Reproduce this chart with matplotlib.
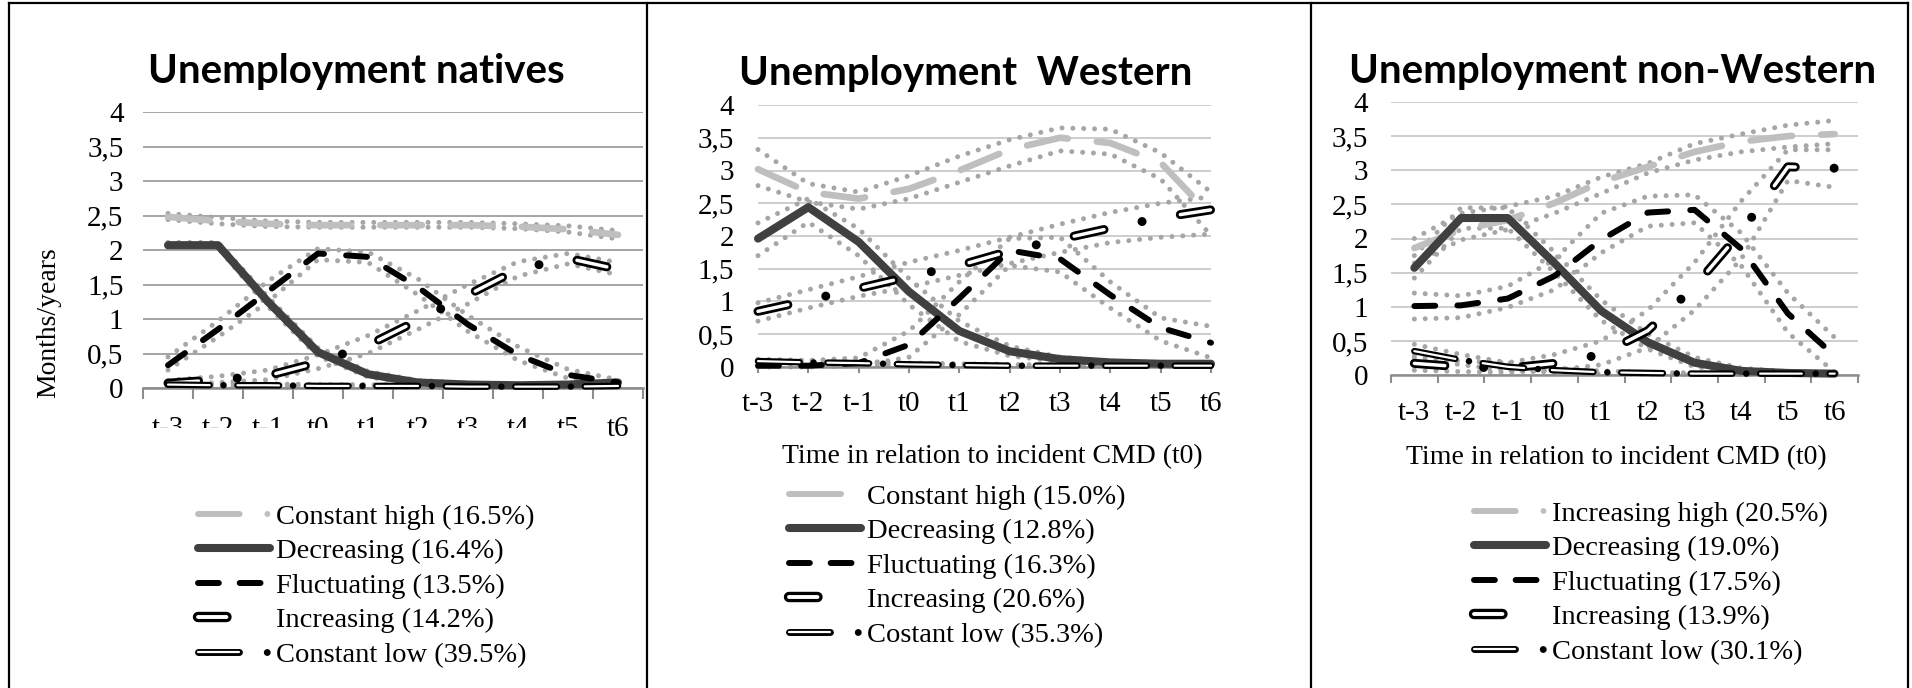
import numpy as np
import matplotlib
matplotlib.use('Agg')
import matplotlib.pyplot as plt
from matplotlib.lines import Line2D
from matplotlib.patches import Rectangle

plt.rcParams['font.family'] = ['Liberation Serif', 'DejaVu Serif']
plt.rcParams['lines.scale_dashes'] = False

W, H = 1912, 688

periods = ['t-3', 't-2', 't-1', 't0', 't1', 't2', 't3', 't4', 't5', 't6']
y_ticks = [0, 0.5, 1, 1.5, 2, 2.5, 3, 3.5, 4]
y_tick_labels = ['0', '0,5', '1', '1,5', '2', '2,5', '3', '3,5', '4']

titles = ['Unemployment natives', 'Unemployment  Western', 'Unemployment non-Western']
x_title = 'Time in relation to incident CMD (t0)'

labels_nat = ['Constant high (16.5%)', 'Decreasing (16.4%)', 'Fluctuating (13.5%)',
              'Increasing (14.2%)', 'Constant low (39.5%)']
labels_wes = ['Constant high (15.0%)', 'Decreasing (12.8%)', 'Fluctuating (16.3%)',
              'Increasing (20.6%)', 'Costant low (35.3%)']
labels_nw = ['Increasing high (20.5%)', 'Decreasing (19.0%)', 'Fluctuating (17.5%)',
             'Increasing (13.9%)', 'Constant low (30.1%)']

# natives: mean trajectory + lower/upper bands
nat_high = [2.48, 2.42, 2.38, 2.36, 2.36, 2.36, 2.36, 2.34, 2.30, 2.22]
nat_high_lo = [2.44, 2.38, 2.34, 2.33, 2.33, 2.33, 2.33, 2.31, 2.26, 2.16]
nat_high_hi = [2.53, 2.47, 2.42, 2.40, 2.40, 2.40, 2.40, 2.38, 2.35, 2.28]
nat_decr = [2.07, 2.07, 1.25, 0.52, 0.20, 0.08, 0.05, 0.04, 0.05, 0.08]
nat_decr_lo = [2.03, 2.03, 1.18, 0.46, 0.16, 0.05, 0.03, 0.02, 0.03, 0.05]
nat_decr_hi = [2.11, 2.11, 1.32, 0.58, 0.24, 0.11, 0.07, 0.06, 0.07, 0.11]
nat_fluc = [0.33, 0.85, 1.40, 1.95, 1.90, 1.46, 0.92, 0.48, 0.19, 0.08]
nat_fluc_lo = [0.26, 0.74, 1.25, 1.86, 1.82, 1.35, 0.82, 0.40, 0.14, 0.05]
nat_fluc_hi = [0.45, 0.97, 1.55, 2.02, 1.97, 1.58, 1.05, 0.60, 0.27, 0.12]
nat_incr = [0.07, 0.12, 0.18, 0.37, 0.62, 0.98, 1.35, 1.72, 1.88, 1.72]
nat_incr_lo = [0.04, 0.08, 0.12, 0.28, 0.50, 0.85, 1.22, 1.62, 1.80, 1.64]
nat_incr_hi = [0.11, 0.17, 0.26, 0.48, 0.76, 1.12, 1.50, 1.83, 1.95, 1.82]
nat_low = [0.05, 0.04, 0.04, 0.03, 0.03, 0.03, 0.02, 0.02, 0.02, 0.03]
nat_low_lo = [0.03, 0.02, 0.02, 0.02, 0.01, 0.01, 0.01, 0.01, 0.01, 0.01]
nat_low_hi = [0.07, 0.06, 0.06, 0.05, 0.05, 0.04, 0.04, 0.04, 0.04, 0.05]

# Western
wes_high = [3.02, 2.67, 2.57, 2.72, 3.00, 3.32, 3.50, 3.42, 3.12, 2.31]
wes_high_lo = [2.77, 2.52, 2.41, 2.57, 2.82, 3.07, 3.30, 3.25, 2.87, 2.01]
wes_high_hi = [3.32, 2.80, 2.67, 2.92, 3.22, 3.47, 3.65, 3.63, 3.27, 2.67]
wes_decr = [1.96, 2.44, 1.91, 1.15, 0.55, 0.24, 0.12, 0.07, 0.05, 0.05]
wes_decr_lo = [1.70, 2.21, 1.70, 0.95, 0.39, 0.17, 0.08, 0.05, 0.03, 0.03]
wes_decr_hi = [2.20, 2.57, 2.11, 1.35, 0.70, 0.32, 0.15, 0.09, 0.07, 0.06]
wes_fluc = [0.02, 0.02, 0.06, 0.34, 1.05, 1.78, 1.65, 1.10, 0.60, 0.37]
wes_fluc_lo = [0.00, 0.00, 0.02, 0.15, 0.80, 1.55, 1.45, 0.90, 0.40, 0.14]
wes_fluc_hi = [0.10, 0.10, 0.14, 0.55, 1.30, 1.96, 1.98, 1.30, 0.75, 0.62]
wes_incr = [0.85, 1.02, 1.20, 1.38, 1.55, 1.77, 1.95, 2.12, 2.28, 2.40]
wes_incr_lo = [0.70, 0.90, 1.08, 1.22, 1.40, 1.58, 1.75, 1.90, 1.98, 2.03]
wes_incr_hi = [0.98, 1.18, 1.38, 1.60, 1.78, 1.98, 2.18, 2.36, 2.50, 2.60]
wes_low = [0.09, 0.07, 0.06, 0.04, 0.03, 0.02, 0.02, 0.02, 0.02, 0.02]
wes_low_lo = [0.06, 0.05, 0.04, 0.02, 0.01, 0.01, 0.01, 0.01, 0.01, 0.01]
wes_low_hi = [0.12, 0.10, 0.09, 0.06, 0.05, 0.04, 0.03, 0.03, 0.03, 0.03]

# non-Western
nw_high = [1.86, 2.13, 2.27, 2.52, 2.83, 3.05, 3.27, 3.42, 3.50, 3.53]
nw_high_lo = [1.64, 1.98, 2.13, 2.37, 2.66, 2.96, 3.15, 3.27, 3.34, 3.39]
nw_high_hi = [2.00, 2.37, 2.47, 2.62, 2.90, 3.10, 3.39, 3.53, 3.66, 3.73]
nw_decr = [1.57, 2.30, 2.30, 1.64, 0.94, 0.48, 0.18, 0.06, 0.03, 0.02]
nw_decr_lo = [1.42, 2.15, 2.15, 1.50, 0.80, 0.38, 0.12, 0.03, 0.01, 0.01]
nw_decr_hi = [1.75, 2.45, 2.45, 1.80, 1.10, 0.60, 0.26, 0.10, 0.05, 0.04]
nw_fluc = [1.01, 1.02, 1.12, 1.45, 1.98, 2.38, 2.42, 1.85, 0.90, 0.28]
nw_fluc_lo = [0.82, 0.84, 0.99, 1.25, 1.79, 2.18, 2.23, 1.60, 0.62, 0.04]
nw_fluc_hi = [1.20, 1.16, 1.30, 1.69, 2.37, 2.62, 2.64, 2.08, 1.20, 0.55]
nw_incr = [0.17, 0.12, 0.10, 0.17, 0.30, 0.65, 1.30, 2.10, 3.05, 3.03]
nw_incr_lo = [0.07, 0.05, 0.04, 0.07, 0.15, 0.40, 0.95, 1.70, 2.85, 2.75]
nw_incr_hi = [0.28, 0.20, 0.18, 0.30, 0.50, 0.95, 1.65, 2.55, 3.30, 3.30]
nw_low = [0.35, 0.22, 0.12, 0.07, 0.04, 0.03, 0.02, 0.02, 0.02, 0.02]
nw_low_lo = [0.25, 0.15, 0.07, 0.04, 0.02, 0.01, 0.01, 0.01, 0.01, 0.01]
nw_low_hi = [0.45, 0.30, 0.18, 0.10, 0.06, 0.04, 0.03, 0.03, 0.03, 0.03]

CI_COLOR = '#a6a6a6'
HIGH_COLOR = '#bfbfbf'
DECR_COLOR = '#404040'
FS = 20.5


def fx(x):
    return x / W


def fy(y):
    return 1 - y / H


def add_axes_px(x0, y_top, x1, y_bot):
    return fig.add_axes([fx(x0), fy(y_bot), fx(x1) - fx(x0), (y_bot - y_top) / H])


def draw_band(ax, x, lo, hi):
    for s in (lo, hi):
        ax.plot(x, s, color=CI_COLOR, lw=3.6, dashes=(0.01, 7.8),
                dash_capstyle='round', clip_on=False, zorder=2)


def draw_series(ax, x, y, kind):
    kw = dict(clip_on=False, zorder=3, dash_capstyle='round', solid_capstyle='round')
    if kind == 'high':
        ax.plot(x, y, color=HIGH_COLOR, lw=4.8, dashes=(30, 21), **kw)
    elif kind == 'decr':
        ax.plot(x, y, color=DECR_COLOR, lw=5.8, **kw)
    elif kind == 'fluc':
        ax.plot(x, y, color='black', lw=4.3, dashes=(15, 16), **kw)
    elif kind == 'incr':
        ax.plot(x, y, color='black', lw=6.5, dashes=(22, 28, 0.01, 28), **kw)
        ax.plot(x, y, color='white', lw=2.5, dashes=(22, 56.01), **kw)
    elif kind == 'low':
        ax.plot(x, y, color='black', lw=4.7, dashes=(30, 10, 0.01, 10), **kw)
        ax.plot(x, y, color='white', lw=1.6, dashes=(30, 20.01), **kw)


def legend_handles(high_dash):
    kw = dict(dash_capstyle='round', solid_capstyle='round')
    return [
        Line2D([], [], color=HIGH_COLOR, lw=4.3, dashes=high_dash, **kw),
        Line2D([], [], color=DECR_COLOR, lw=5.8, **kw),
        Line2D([], [], color='black', lw=4.3, dashes=(15, 15), **kw),
        (Line2D([], [], color='black', lw=7.5, dashes=(20.5, 80), **kw),
         Line2D([], [], color='white', lw=2.8, dashes=(20.5, 80), **kw)),
        (Line2D([], [], color='black', lw=5, dashes=(29.5, 20, 0.01, 60), **kw),
         Line2D([], [], color='white', lw=1.6, dashes=(29.5, 80.01), **kw)),
    ]


def style_axes(ax, between, grid_color, tick_len, xpad, ypad):
    ax.set_ylim(0, 4)
    ax.set_yticks(y_ticks)
    ax.set_yticklabels(y_tick_labels)
    ax.yaxis.grid(True, color=grid_color, lw=1.1)
    ax.set_axisbelow(True)
    for side in ('top', 'left', 'right'):
        ax.spines[side].set_visible(False)
    ax.spines['bottom'].set_color('#8c8c8c')
    ax.spines['bottom'].set_linewidth(1.8)
    ax.set_xticks(range(len(periods)))
    ax.set_xticklabels(periods)
    if between:
        ax.set_xlim(-0.5, len(periods) - 0.5)
        ax.set_xticks(np.arange(-0.5, len(periods), 1), minor=True)
        ax.tick_params(axis='x', which='major', length=0, pad=xpad + tick_len, labelsize=21)
        ax.tick_params(axis='x', which='minor', length=tick_len, width=1.5, color='#8c8c8c')
    else:
        ax.set_xlim(0, len(periods) - 1)
        ax.tick_params(axis='x', which='major', length=tick_len, width=1.5,
                       color='#8c8c8c', pad=xpad, labelsize=21)
    ax.tick_params(axis='y', length=0, pad=ypad, labelsize=21)
    ax.set_facecolor('none')


fig = plt.figure(figsize=(W / 100, H / 100), dpi=100)

panels = [
    dict(box=(143, 112, 643, 388), between=True, grid='#8c8c8c', tick=8, xpad=12, ypad=14,
         series=[(nat_high, nat_high_lo, nat_high_hi, 'high'),
                 (nat_decr, nat_decr_lo, nat_decr_hi, 'decr'),
                 (nat_fluc, nat_fluc_lo, nat_fluc_hi, 'fluc'),
                 (nat_incr, nat_incr_lo, nat_incr_hi, 'incr'),
                 (nat_low, nat_low_lo, nat_low_hi, 'low')],
         labels=labels_nat, high_dash=(30, 20, 0.01, 50), legend_at=(198, 504),
         title_at=(356, 72)),
    dict(box=(758, 105, 1211, 367), between=False, grid='#c0c0c0', tick=4.5, xpad=13, ypad=17,
         series=[(wes_high, wes_high_lo, wes_high_hi, 'high'),
                 (wes_decr, wes_decr_lo, wes_decr_hi, 'decr'),
                 (wes_fluc, wes_fluc_lo, wes_fluc_hi, 'fluc'),
                 (wes_incr, wes_incr_lo, wes_incr_hi, 'incr'),
                 (wes_low, wes_low_lo, wes_low_hi, 'low')],
         labels=labels_wes, high_dash=(37.5, 40), legend_at=(789, 484),
         title_at=(966, 73)),
    dict(box=(1391, 102, 1858, 375), between=True, grid='#c0c0c0', tick=6, xpad=12, ypad=16.5,
         series=[(nw_high, nw_high_lo, nw_high_hi, 'high'),
                 (nw_decr, nw_decr_lo, nw_decr_hi, 'decr'),
                 (nw_fluc, nw_fluc_lo, nw_fluc_hi, 'fluc'),
                 (nw_incr, nw_incr_lo, nw_incr_hi, 'incr'),
                 (nw_low, nw_low_lo, nw_low_hi, 'low')],
         labels=labels_nw, high_dash=(30, 20, 0.01, 50), legend_at=(1474, 501),
         title_at=(1613, 71)),
]

fs_px = FS * 100 / 72
for i, p in enumerate(panels):
    ax = add_axes_px(*p['box'])
    style_axes(ax, p['between'], p['grid'], p['tick'], p['xpad'], p['ypad'])
    x = np.arange(len(periods))
    for mean, lo, hi, kind in p['series']:
        draw_band(ax, x, lo, hi)
    for mean, lo, hi, kind in p['series']:
        draw_series(ax, x, mean, kind)
    lx, ly = p['legend_at']
    ax.legend(legend_handles(p['high_dash']), p['labels'], loc='upper left',
              bbox_to_anchor=(fx(lx), fy(ly)), bbox_transform=fig.transFigure,
              frameon=False, borderpad=0, borderaxespad=0, fontsize=FS,
              handlelength=72 / fs_px, handletextpad=6 / fs_px, labelspacing=0.3)
    tx, ty = p['title_at']
    fig.text(fx(tx), fy(ty), titles[i], ha='center', va='center', fontsize=29,
             family=['Lato', 'DejaVu Sans'], weight='bold')

fig.text(fx(49), fy(323), 'Months/years', rotation=90, ha='center', va='center', fontsize=20)
fig.text(fx(992), fy(457), x_title, ha='center', va='center', fontsize=20)
fig.text(fx(1616), fy(458), x_title, ha='center', va='center', fontsize=20)

# white box hiding most of the first panel's category labels
fig.add_artist(Rectangle((fx(126), fy(462)), fx(597) - fx(126), (462 - 428) / H,
                         transform=fig.transFigure, facecolor='white', edgecolor='none',
                         zorder=10))

# table frame
frame = [((9, 3), (1908, 3)), ((9, 3), (9, 688)), ((647, 3), (647, 688)),
         ((1311, 3), (1311, 688)), ((1908, 3), (1908, 688))]
for (x0, y0), (x1, y1) in frame:
    fig.add_artist(Line2D([fx(x0), fx(x1)], [fy(y0), fy(y1)], transform=fig.transFigure,
                          color='black', lw=1.6, zorder=11))

fig.savefig('out.png', dpi=100)
